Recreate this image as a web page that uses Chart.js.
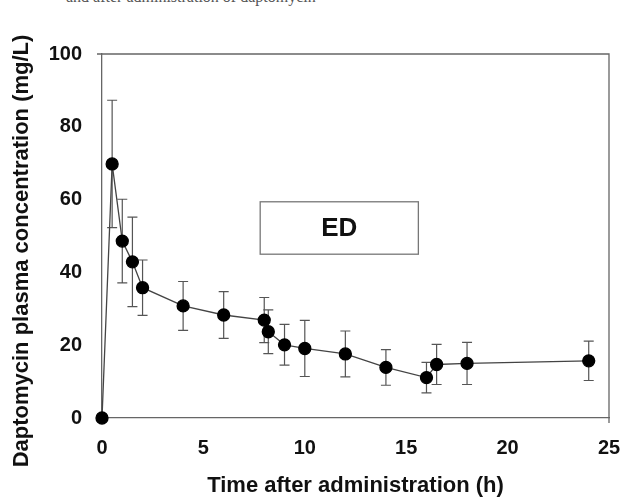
<!DOCTYPE html>
<html>
<head>
<meta charset="utf-8">
<script src="https://cdn.jsdelivr.net/npm/chart.js@4"></script>
<style>
  html, body { margin: 0; padding: 0; background: #fff; }
  #wrap { position: relative; width: 624px; height: 497px; overflow: hidden; }
  #cut { position: absolute; left: 66px; top: -12px; font: 16px "Liberation Serif", serif; color: #555; white-space: nowrap; }
  canvas { position: absolute; left: 0; top: 0; }
</style>
</head>
<body>
<div id="wrap">
  <div id="cut">and after administration of daptomycin</div>
  <canvas id="pk" width="624" height="497"></canvas>
</div>
<script>
// time (h) and daptomycin concentration (mg/L), mean and SD
const times = [0, 0.5, 1, 1.5, 2, 4, 6, 8, 8.2, 9, 10, 12, 14, 16, 16.5, 18, 24];
const conc  = [0, 69.8, 48.6, 42.9, 35.8, 30.8, 28.3, 26.9, 23.7, 20.1, 19.1, 17.6, 13.9, 11.1, 14.7, 15.0, 15.7];
const sd    = [0, 17.5, 11.5, 12.3, 7.6, 6.7, 6.4, 6.2, 6.0, 5.6, 7.7, 6.3, 4.9, 4.2, 5.5, 5.8, 5.4];
const xTicks = [0, 5, 10, 15, 20, 25];
const yTicks = [0, 20, 40, 60, 80, 100];
const groupLabel = "ED";
const yTitle = "Daptomycin plasma concentration (mg/L)";

const errorBars = {
  id: 'errorBars',
  beforeDatasetsDraw(chart) {
    const { ctx, scales: { x, y } } = chart;
    ctx.save();
    ctx.strokeStyle = '#555';
    ctx.lineWidth = 1.2;
    times.forEach((t, i) => {
      if (!sd[i]) return;
      const px = x.getPixelForValue(t);
      const top = y.getPixelForValue(conc[i] + sd[i]);
      const bot = y.getPixelForValue(conc[i] - sd[i]);
      ctx.beginPath();
      ctx.moveTo(px, top); ctx.lineTo(px, bot);
      ctx.moveTo(px - 5, top); ctx.lineTo(px + 5, top);
      ctx.moveTo(px - 5, bot); ctx.lineTo(px + 5, bot);
      ctx.stroke();
    });
    ctx.restore();
  }
};

const frameAndLabel = {
  id: 'frameAndLabel',
  afterDraw(chart) {
    const { ctx, chartArea: a, scales: { x, y } } = chart;
    ctx.save();
    ctx.strokeStyle = '#666';
    ctx.lineWidth = 1.3;
    ctx.beginPath();
    ctx.moveTo(a.left - 5, a.top); ctx.lineTo(a.right, a.top);
    ctx.lineTo(a.right, a.bottom + 5);
    ctx.stroke();
    // label box
    const l = x.getPixelForValue(7.8), r = x.getPixelForValue(15.6);
    const t = y.getPixelForValue(59.4), b = y.getPixelForValue(45);
    ctx.fillStyle = '#fff';
    ctx.fillRect(l, t, r - l, b - t);
    ctx.strokeStyle = '#777';
    ctx.strokeRect(l, t, r - l, b - t);
    ctx.fillStyle = '#111';
    ctx.font = 'bold 26px "Liberation Sans", Arial, sans-serif';
    ctx.textAlign = 'center';
    ctx.textBaseline = 'middle';
    ctx.fillText(groupLabel, (l + r) / 2, (t + b) / 2 + 1);
    // y axis title, a bit lower than the chart area centre like the original
    ctx.translate(22, 251);
    ctx.rotate(-Math.PI / 2);
    ctx.font = 'bold 22px "Liberation Sans", Arial, sans-serif';
    ctx.fillText(yTitle, 0, 0);
    ctx.restore();
  }
};

Chart.defaults.font.family = '"Liberation Sans", Arial, sans-serif';
Chart.defaults.color = '#111';

new Chart(document.getElementById('pk'), {
  type: 'line',
  data: {
    datasets: [{
      data: times.map((t, i) => ({ x: t, y: conc[i] })),
      borderColor: '#444',
      borderWidth: 1.3,
      pointRadius: 6,
      pointBackgroundColor: '#000',
      pointBorderColor: '#000',
      tension: 0,
      clip: false
    }]
  },
  options: {
    responsive: false,
    animation: false,
    layout: { padding: { left: 0, top: 54, right: 15, bottom: 0 } },
    plugins: { legend: { display: false }, tooltip: { enabled: false } },
    scales: {
      x: {
        type: 'linear', min: 0, max: 25,
        afterBuildTicks: s => { s.ticks = xTicks.map(v => ({ value: v })); },
        afterFit: s => { s.height = 79; s.paddingLeft = 0; s.paddingRight = 0; },
        grid: { display: false, drawTicks: true, tickLength: 5, tickColor: '#666' },
        border: { color: '#666', width: 1.3 },
        ticks: { font: { size: 20, weight: 'bold' }, padding: 13, maxRotation: 0 },
        title: { display: true, text: 'Time after administration (h)', font: { size: 22, weight: 'bold' }, padding: { top: 0, bottom: -2 } }
      },
      y: {
        type: 'linear', min: 0, max: 100,
        afterBuildTicks: s => { s.ticks = yTicks.map(v => ({ value: v })); },
        afterFit: s => { s.width = 102; s.paddingTop = 0; s.paddingBottom = 0; },
        grid: { display: false, drawTicks: true, tickLength: 5, tickColor: '#666' },
        border: { color: '#666', width: 1.3 },
        ticks: { font: { size: 20, weight: 'bold' }, padding: 15 }
      }
    }
  },
  plugins: [errorBars, frameAndLabel]
});
</script>
</body>
</html>
